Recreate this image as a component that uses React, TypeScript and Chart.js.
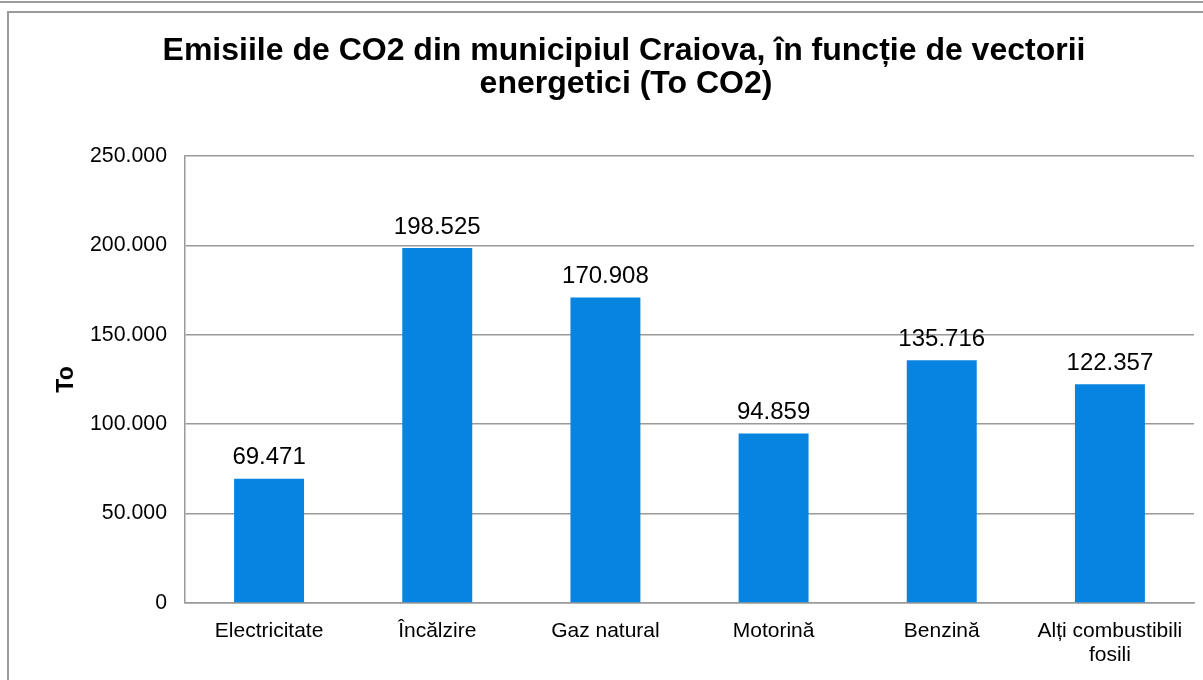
import React, { useEffect, useRef } from "react";
import { Chart, registerables } from "chart.js";

Chart.register(...registerables);

const categories: (string | string[])[] = [
  "Electricitate",
  "Încălzire",
  "Gaz natural",
  "Motorină",
  "Benzină",
  ["Alți combustibili", "fosili"],
];
const emissions: number[] = [69471, 198525, 170908, 94859, 135716, 122357];
const titleLines: string[] = [
  "Emisiile de CO2 din municipiul Craiova, în funcție de vectorii",
  "energetici (To CO2)",
];
const yAxisTitle = "To";
const yMin = 0;
const yMax = 250000;
const yStep = 50000;

const FONT = "'Liberation Sans', Arial, sans-serif";

function fmt(v: number): string {
  const s = Math.round(v).toString();
  return s.replace(/\B(?=(\d{3})+(?!\d))/g, ".");
}

const overlayPlugin = {
  id: "overlay",
  afterDatasetsDraw(chart: any) {
    const ctx = chart.ctx as CanvasRenderingContext2D;
    const area = chart.chartArea;
    ctx.save();
    // data labels
    const meta = chart.getDatasetMeta(0);
    ctx.font = `24px ${FONT}`;
    ctx.fillStyle = "#000";
    ctx.textAlign = "center";
    ctx.textBaseline = "alphabetic";
    meta.data.forEach((bar: any, i: number) => {
      ctx.fillText(fmt(emissions[i]), bar.x, bar.y - 14.5);
    });
    // title
    ctx.font = `bold 32px ${FONT}`;
    ctx.fillText(titleLines[0], 624, 60);
    ctx.fillText(titleLines[1], 626, 93);
    // y axis title
    ctx.font = `bold 23px ${FONT}`;
    ctx.translate(67, (area.top + area.bottom) / 2);
    ctx.rotate(-Math.PI / 2);
    ctx.textBaseline = "middle";
    ctx.fillText(yAxisTitle, 0, 0);
    ctx.restore();
  },
};

export default function App() {
  const ref = useRef<HTMLCanvasElement | null>(null);
  useEffect(() => {
    if (!ref.current) return;
    const chart = new Chart(ref.current, {
      type: "bar",
      data: {
        labels: categories,
        datasets: [
          {
            data: emissions,
            backgroundColor: "#0784DF",
            borderWidth: 0,
            barPercentage: 0.416,
            categoryPercentage: 1,
          },
        ],
      },
      options: {
        responsive: false,
        animation: false,
        devicePixelRatio: 1,
        layout: { padding: { left: 0, top: 156, right: 9, bottom: 0 } },
        plugins: {
          legend: { display: false },
          title: { display: false },
          tooltip: { enabled: false },
        },
        scales: {
          x: {
            grid: { display: false, drawTicks: false },
            border: { display: true, color: "#9a9a9a", width: 1.5 },
            ticks: {
              font: { family: FONT, size: 21, lineHeight: 1.14 },
              color: "#000",
              padding: 16,
              maxRotation: 0,
              autoSkip: false,
            },
            afterFit: (s: any) => {
              s.height = 77;
            },
          },
          y: {
            min: yMin,
            max: yMax,
            grid: { color: "#9a9a9a", lineWidth: 1.5, drawTicks: false },
            border: { display: true, color: "#9a9a9a", width: 1.5 },
            ticks: {
              stepSize: yStep,
              font: { family: FONT, size: 21.3 },
              color: "#000",
              padding: 18,
              callback: (v: any) => fmt(Number(v)),
            },
            afterFit: (s: any) => {
              s.width = 185;
            },
          },
        },
      },
      plugins: [overlayPlugin],
    });
    return () => chart.destroy();
  }, []);

  return (
    <div
      style={{
        position: "absolute",
        top: 0,
        left: 0,
        width: 1203,
        height: 680,
        overflow: "hidden",
        background: "#fff",
      }}
    >
      <div
        style={{
          position: "absolute",
          top: 1,
          left: 0,
          width: 1203,
          height: 0,
          borderTop: "2px solid #9a9a9a",
        }}
      />
      <div
        style={{
          position: "absolute",
          top: 11,
          left: 7,
          width: 1300,
          height: 800,
          border: "2px solid #9a9a9a",
        }}
      />
      <canvas
        ref={ref}
        width={1203}
        height={680}
        style={{ position: "absolute", top: 0, left: 0, width: 1203, height: 680 }}
      />
    </div>
  );
}
